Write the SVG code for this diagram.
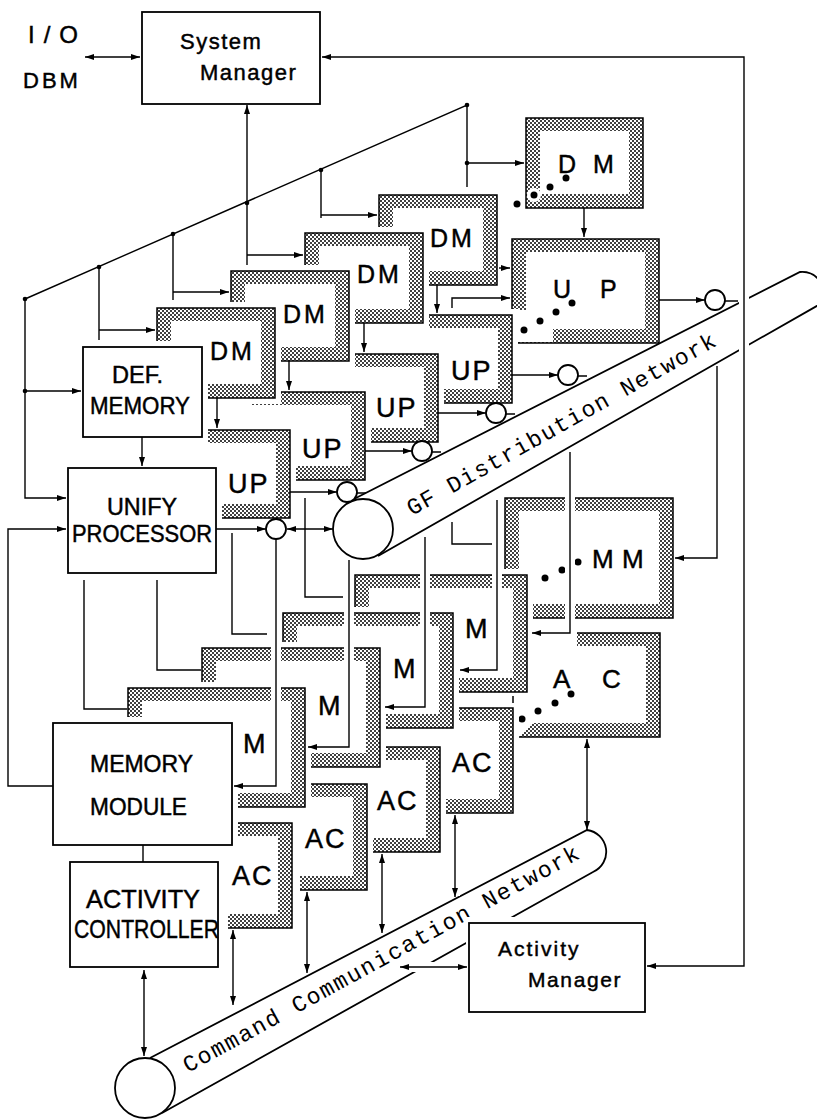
<svg xmlns="http://www.w3.org/2000/svg" width="817" height="1120" viewBox="0 0 817 1120">
<defs>
<pattern id="stp" width="4" height="4" patternUnits="userSpaceOnUse">
<rect width="4" height="4" fill="#fff"/>
<circle cx="1" cy="1" r="1" fill="#000"/>
<circle cx="3" cy="3" r="1" fill="#000"/>
</pattern>
<marker id="ah" viewBox="0 0 9 6" refX="9" refY="3" markerWidth="9" markerHeight="6" markerUnits="userSpaceOnUse" orient="auto-start-reverse">
<path d="M0,0 L9,3 L0,6 z" fill="#000"/>
</marker>
</defs>
<style>
.bx{fill:#fff;stroke:#000;stroke-width:1.8}
.halo{fill:#fff}
.st{fill:url(#stp)}
.fr{fill:url(#stp);stroke:#000;stroke-width:1.5}
.fo{fill:none;stroke:#000;stroke-width:1.5}
.in{fill:#fff}
.lb{font-family:"Liberation Sans",Arial,sans-serif;fill:#000;stroke:#000;stroke-width:0.45}
.ln{fill:none;stroke:#000;stroke-width:1.4}
.hl{fill:none;stroke:#fff;stroke-width:10}
.arr{marker-end:url(#ah)}
.dbl{marker-start:url(#ah);marker-end:url(#ah)}
.dot{fill:#000}
.tl{fill:none;stroke:#000;stroke-width:1.8}
.tb{fill:#fff;stroke:none}
.cir{fill:#fff;stroke:#000;stroke-width:1.8}
.mono{font-family:"Liberation Mono","Courier New",monospace;fill:#000}
</style>
<rect width="817" height="1120" fill="#fff"/>

<g id="io-dbm">
<text class="lb" x="28" y="43" font-size="24" letter-spacing="9">I/O</text>
<text class="lb" x="23" y="88" font-size="22" letter-spacing="3">DBM</text>
</g>

<g id="system-manager">
<rect class="bx" x="142" y="12" width="178" height="92"/>
<text class="lb" x="180" y="49" font-size="22" letter-spacing="1.5">System</text>
<text class="lb" x="200" y="80" font-size="22" letter-spacing="1.5">Manager</text>
</g>

<g id="dm-far">
<rect class="fr" x="526" y="118" width="117" height="90"/>
<rect class="in" x="540" y="131" width="89" height="63"/>
<circle class="halo" cx="534" cy="195" r="7"/>
<circle class="halo" cx="550" cy="187" r="6"/>
<text class="lb" x="558" y="173" font-size="25">D</text>
<text class="lb" x="593" y="173" font-size="25">M</text>
<circle class="dot" cx="517" cy="204" r="3.5"/>
<circle class="dot" cx="534" cy="195" r="3.5"/>
<circle class="dot" cx="550" cy="187" r="3.5"/>
<circle class="dot" cx="566" cy="178" r="3.5"/>
</g>

<g id="dm4">
<rect class="halo" x="373" y="189" width="130" height="102"/>
<rect class="fr" x="379" y="195" width="118" height="90"/>
<rect class="in" x="393" y="208" width="90" height="63"/>
<text class="lb" x="430" y="247" font-size="25" letter-spacing="3">DM</text>
</g>

<g id="up-far">
<rect class="fr" x="512" y="239" width="147" height="104"/>
<rect class="in" x="526" y="252" width="119" height="77"/>
<rect class="halo" x="510" y="310" width="43" height="32"/>
<text class="lb" x="553" y="298" font-size="25">U</text>
<text class="lb" x="600" y="298" font-size="25">P</text>
<circle class="dot" cx="524" cy="330" r="3.5"/>
<circle class="dot" cx="540" cy="321" r="3.5"/>
<circle class="dot" cx="556" cy="312" r="3.5"/>
<circle class="dot" cx="572" cy="303" r="3.5"/>
</g>

<g id="up4">
<rect class="halo" x="392" y="309" width="126" height="100"/>
<rect class="st" x="398" y="315" width="114" height="88"/>
<rect class="in" x="398" y="328" width="100" height="61"/>
<path class="fo" d="M398 315 H512 V403 H398"/>
<text class="lb" x="451" y="380" font-size="27" letter-spacing="2">UP</text>
</g>

<g id="dm3">
<rect class="halo" x="299" y="227" width="130" height="102"/>
<rect class="fr" x="305" y="233" width="118" height="90"/>
<rect class="in" x="319" y="246" width="90" height="63"/>
<text class="lb" x="357" y="283" font-size="25" letter-spacing="3">DM</text>
</g>

<g id="up3">
<rect class="halo" x="318" y="348" width="126" height="100"/>
<rect class="st" x="324" y="354" width="114" height="88"/>
<rect class="in" x="324" y="367" width="100" height="61"/>
<path class="fo" d="M324 354 H438 V442 H324"/>
<text class="lb" x="376" y="417" font-size="27" letter-spacing="2">UP</text>
</g>

<g id="dm2">
<rect class="halo" x="225" y="265" width="130" height="102"/>
<rect class="fr" x="231" y="271" width="118" height="90"/>
<rect class="in" x="245" y="284" width="90" height="63"/>
<text class="lb" x="283" y="323" font-size="25" letter-spacing="3">DM</text>
</g>

<g id="up2">
<rect class="halo" x="244" y="386" width="127" height="100"/>
<rect class="st" x="250" y="392" width="115" height="88"/>
<rect class="in" x="250" y="405" width="101" height="61"/>
<path class="fo" d="M250 392 H365 V480 H250"/>
<text class="lb" x="302" y="458" font-size="27" letter-spacing="2">UP</text>
</g>

<g id="dm1">
<rect class="halo" x="151" y="302" width="130" height="102"/>
<rect class="fr" x="157" y="308" width="118" height="90"/>
<rect class="in" x="171" y="321" width="90" height="63"/>
<text class="lb" x="210" y="360" font-size="25" letter-spacing="3">DM</text>
</g>

<g id="up1">
<rect class="halo" x="184" y="424" width="112" height="100"/>
<rect class="st" x="190" y="430" width="100" height="88"/>
<rect class="in" x="190" y="443" width="86" height="61"/>
<path class="fo" d="M190 430 H290 V518 H190"/>
<text class="lb" x="228" y="493" font-size="27" letter-spacing="2">UP</text>
</g>

<g id="def-memory">
<rect class="halo" x="77" y="341" width="131" height="102"/>
<rect class="bx" x="83" y="347" width="119" height="90"/>
<text class="lb" x="112" y="383" font-size="23" textLength="51" lengthAdjust="spacingAndGlyphs">DEF.</text>
<text class="lb" x="90" y="414" font-size="23" textLength="100" lengthAdjust="spacingAndGlyphs">MEMORY</text>
</g>

<g id="unify-processor">
<rect class="halo" x="62" y="462" width="160" height="117"/>
<rect class="bx" x="68" y="468" width="148" height="105"/>
<text class="lb" x="107" y="515" font-size="23" textLength="70" lengthAdjust="spacingAndGlyphs">UNIFY</text>
<text class="lb" x="72" y="542" font-size="23" textLength="140" lengthAdjust="spacingAndGlyphs">PROCESSOR</text>
</g>

<g id="mm-far">
<rect class="fr" x="505" y="498" width="168" height="120"/>
<rect class="in" x="519" y="511" width="140" height="93"/>
<text class="lb" x="592" y="568" font-size="26">M</text>
<text class="lb" x="622" y="568" font-size="26">M</text>
<circle class="dot" cx="545" cy="578" r="3.5"/>
<circle class="dot" cx="562" cy="570" r="3.5"/>
<circle class="dot" cx="578" cy="562" r="3.5"/>
</g>

<g id="ac-far">
<path class="st" d="M577 633 H660 V737 H519 L533 723 H646 V646 H577 Z"/>
<path class="fo" d="M577 633 H660 V737 H519"/>
<text class="lb" x="553" y="688" font-size="26">A</text>
<text class="lb" x="602" y="688" font-size="26">C</text>
<circle class="dot" cx="522" cy="719" r="3.5"/>
<circle class="dot" cx="538" cy="711" r="3.5"/>
<circle class="dot" cx="555" cy="703" r="3.5"/>
<circle class="dot" cx="571" cy="694" r="3.5"/>
</g>

<g id="m4">
<rect class="halo" x="349" y="569" width="184" height="129"/>
<rect class="fr" x="355" y="575" width="172" height="117"/>
<rect class="in" x="369" y="588" width="144" height="90"/>
<text class="lb" x="465" y="638" font-size="27">M</text>
</g>

<g id="ac4">
<rect class="halo" x="440" y="702" width="79" height="117"/>
<rect class="st" x="446" y="708" width="67" height="105"/>
<rect class="in" x="446" y="721" width="53" height="78"/>
<path class="fo" d="M446 708 H513 V813 H446"/>
<path class="fo" d="M513 696 V703"/>
<text class="lb" x="452" y="772" font-size="27" letter-spacing="2">AC</text>
</g>

<g id="m3">
<rect class="halo" x="277" y="607" width="182" height="127"/>
<rect class="fr" x="283" y="613" width="170" height="115"/>
<rect class="in" x="297" y="626" width="142" height="88"/>
<text class="lb" x="393" y="678" font-size="27">M</text>
</g>

<g id="ac3">
<rect class="halo" x="366" y="741" width="80" height="117"/>
<rect class="st" x="372" y="747" width="68" height="105"/>
<rect class="in" x="372" y="760" width="54" height="78"/>
<path class="fo" d="M372 747 H440 V852 H372"/>
<text class="lb" x="377" y="810" font-size="27" letter-spacing="2">AC</text>
</g>

<g id="m2">
<rect class="halo" x="196" y="642" width="190" height="131"/>
<rect class="fr" x="202" y="648" width="178" height="119"/>
<rect class="in" x="216" y="661" width="150" height="92"/>
<text class="lb" x="318" y="715" font-size="27">M</text>
</g>

<g id="ac2">
<rect class="halo" x="294" y="778" width="79" height="118"/>
<rect class="st" x="300" y="784" width="67" height="106"/>
<rect class="in" x="300" y="797" width="53" height="79"/>
<path class="fo" d="M300 784 H367 V890 H300"/>
<text class="lb" x="305" y="848" font-size="27" letter-spacing="2">AC</text>
</g>

<g id="m1">
<rect class="halo" x="122" y="682" width="189" height="131"/>
<rect class="fr" x="128" y="688" width="177" height="119"/>
<rect class="in" x="142" y="701" width="149" height="92"/>
<text class="lb" x="243" y="753" font-size="27">M</text>
</g>

<g id="ac1">
<rect class="halo" x="222" y="817" width="76" height="117"/>
<rect class="st" x="228" y="823" width="64" height="105"/>
<rect class="in" x="228" y="836" width="50" height="78"/>
<path class="fo" d="M228 823 H292 V928 H228"/>
<text class="lb" x="232" y="885" font-size="27" letter-spacing="2">AC</text>
</g>

<g id="memory-module">
<rect class="halo" x="47" y="717" width="191" height="134"/>
<rect class="bx" x="53" y="723" width="179" height="122"/>
<text class="lb" x="90" y="772" font-size="23" textLength="103" lengthAdjust="spacingAndGlyphs">MEMORY</text>
<text class="lb" x="90" y="815" font-size="23" textLength="97" lengthAdjust="spacingAndGlyphs">MODULE</text>
</g>

<g id="activity-controller">
<rect class="halo" x="64" y="856" width="160" height="117"/>
<rect class="bx" x="70" y="862" width="148" height="105"/>
<text class="lb" x="86" y="908" font-size="25" textLength="114" lengthAdjust="spacingAndGlyphs">ACTIVITY</text>
<text class="lb" x="74" y="938" font-size="25" textLength="145" lengthAdjust="spacingAndGlyphs">CONTROLLER</text>
</g>

<g id="gf-network">
<path class="tb" d="M352 500 L800 272 A22 22 0 0 1 822 303 L378 556 Z"/>
<path class="tl" d="M352 500 L800 272 A22 22 0 0 1 822 303 L378 556"/>
<circle class="cir" cx="363" cy="529" r="30"/>
<text class="mono" x="412" y="516" font-size="23" textLength="350" lengthAdjust="spacing" transform="rotate(-29.2 412 516)">GF Distribution Network</text>
</g>

<g id="command-network">
<path class="tb" d="M150 1058 L587 830 A22 22 0 0 1 593 872 L162 1113 Z"/>
<path class="tl" d="M150 1058 L587 830 A22 22 0 0 1 593 872 L162 1113"/>
<circle class="cir" cx="145" cy="1088" r="30"/>
<text class="mono" x="188" y="1073" font-size="23" textLength="448" lengthAdjust="spacing" transform="rotate(-28.7 188 1073)">Command Communication Network</text>
</g>

<g id="activity-manager">
<rect class="halo" x="466" y="917" width="185" height="98"/>
<rect class="bx" x="469" y="923" width="176" height="89"/>
<text class="lb" x="498" y="956" font-size="21" letter-spacing="2">Activity</text>
<text class="lb" x="528" y="987" font-size="21" letter-spacing="1.6">Manager</text>
</g>

<g id="connectors">
<path class="hl" d="M744 255 V385"/>
<path class="hl" d="M276 541 V786 H244"/>
<path class="hl" d="M232 535 V634 H262"/>
<path class="hl" d="M305 500 V597 H340"/>
<path class="hl" d="M349 562 V747 H316"/>
<path class="hl" d="M425 539 V707 H393"/>
<path class="hl" d="M452 524 V544 H488"/>
<path class="hl" d="M497 502 V670 H468"/>
<path class="hl" d="M570 454 V633 H540"/>
<path class="hl" d="M717 368 V558 H683"/>
<path class="hl" d="M295 529 H325"/>
<path class="hl" d="M144 978 V1054"/>
<path class="hl" d="M233 938 V1004"/>
<path class="hl" d="M307 900 V972"/>
<path class="hl" d="M382 862 V932"/>
<path class="hl" d="M455 823 V896"/>
<path class="hl" d="M587 747 V826"/>
<path class="hl" d="M408 967 H459"/>

<path class="ln dbl" d="M322 57 H744 V966 H647"/>
<path class="ln dbl" d="M85 57 H140"/>
<path class="ln arr" d="M247 265 V105"/>
<path class="ln arr" d="M247 255 H303"/>
<path class="ln" d="M25 299 L467 105 V187"/>
<path class="ln arr" d="M467 163 H524"/>
<path class="ln" d="M99 267 V340"/>
<path class="ln arr" d="M99 330 H155"/>
<path class="ln" d="M173 234 V300"/>
<path class="ln arr" d="M173 292 H229"/>
<path class="ln" d="M321 171 V218"/>
<path class="ln arr" d="M321 215 H377"/>
<path class="ln arr" d="M25 299 V498 H66"/>
<path class="ln arr" d="M25 391 H81"/>
<path class="ln arr" d="M142 437 V466"/>
<path class="ln arr" d="M217 398 V428"/>
<path class="ln arr" d="M289 361 V390"/>
<path class="ln arr" d="M364 323 V352"/>
<path class="ln arr" d="M437 285 V313"/>
<path class="ln arr" d="M584 208 V237"/>
<path class="ln arr" d="M499 268 H510"/>
<path class="ln arr" d="M452 308 V298 H510"/>
<path class="ln arr" d="M290 492 H337"/>
<path class="ln arr" d="M365 451 H412"/>
<path class="ln arr" d="M438 413 H486"/>
<path class="ln arr" d="M512 375 H558"/>
<path class="ln arr" d="M659 300 H705"/>
<path class="ln arr" d="M216 529 H266"/>
<path class="ln dbl" d="M287 529 H333"/>
<path class="ln arr" d="M276 539 V786 H234"/>
<path class="ln arr" d="M53 786 H8 V529 H66"/>
<path class="ln" d="M84 580 V709 H127"/>
<path class="ln" d="M157 580 V670 H201"/>
<path class="ln" d="M232 533 V634 H267"/>
<path class="ln" d="M305 498 V597 H343"/>
<path class="ln arr" d="M349 560 V747 H308"/>
<path class="ln arr" d="M425 537 V707 H385"/>
<path class="ln" d="M452 522 V544 H492"/>
<path class="ln arr" d="M497 500 V670 H460"/>
<path class="ln arr" d="M570 452 V633 H532"/>
<path class="ln arr" d="M717 366 V558 H675"/>
<path class="ln" d="M143 845 V862"/>
<path class="ln dbl" d="M144 970 V1056"/>
<path class="ln dbl" d="M233 930 V1005"/>
<path class="ln dbl" d="M307 892 V973"/>
<path class="ln dbl" d="M382 854 V933"/>
<path class="ln dbl" d="M455 815 V897"/>
<path class="ln dbl" d="M587 739 V830"/>
<path class="ln dbl" d="M400 967 H467"/>

<circle class="dot" cx="25" cy="299" r="2.3"/>
<circle class="dot" cx="25" cy="391" r="2.3"/>
<circle class="dot" cx="99" cy="267" r="2.3"/>
<circle class="dot" cx="173" cy="234" r="2.3"/>
<circle class="dot" cx="247" cy="203" r="2.3"/>
<circle class="dot" cx="321" cy="170" r="2.3"/>
<circle class="dot" cx="467" cy="105" r="2.3"/>
<circle class="dot" cx="467" cy="163" r="2.3"/>

<path class="ln" d="M357 493 H366 M432 452 H441 M506 414 H515 M578 376 H587 M725 301 H738"/>
<circle class="cir" cx="347" cy="492" r="10"/>
<circle class="cir" cx="422" cy="451" r="10"/>
<circle class="cir" cx="496" cy="413" r="10"/>
<circle class="cir" cx="568" cy="375" r="10"/>
<circle class="cir" cx="715" cy="300" r="10"/>
<circle class="cir" cx="276" cy="529" r="10"/>
</g>
</svg>
